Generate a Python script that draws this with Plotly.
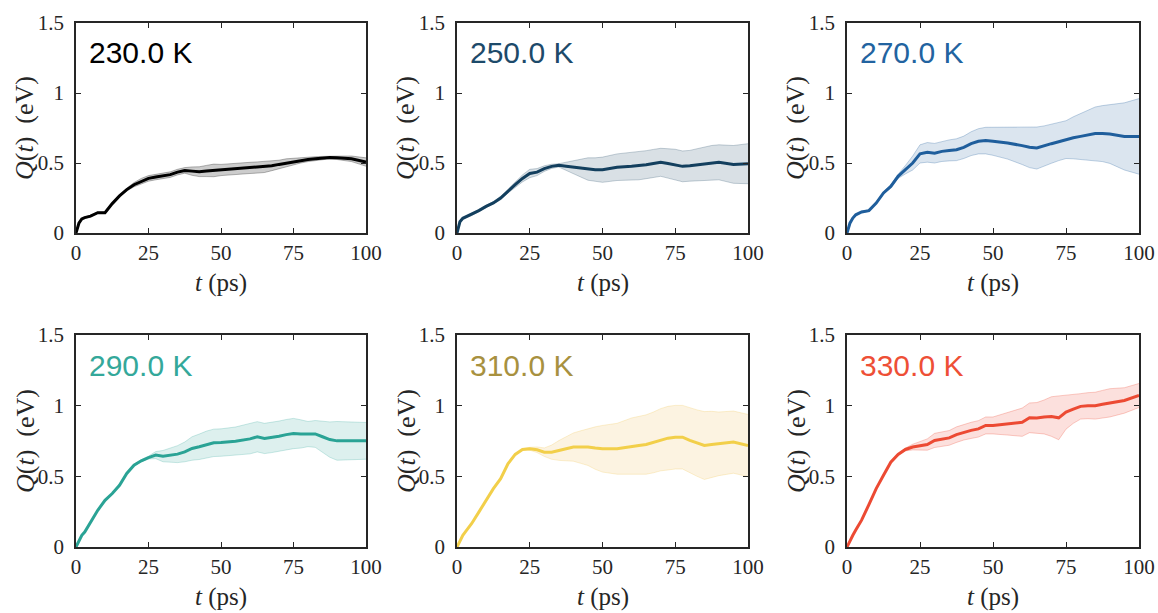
import plotly.graph_objects as go

# Time grid (ps)
t = [0, 1, 2, 3, 5, 7.5, 10, 12.5, 15, 17.5, 20, 22.5, 25, 27.5, 30, 32.5, 35, 37.5,
     40, 42.5, 45, 47.5, 50, 55, 60, 62.5, 65, 67.5, 70, 72.5, 75, 77.5, 80, 82.5,
     85, 87.5, 90, 95, 100]

labels = ["230.0 K", "250.0 K", "270.0 K", "290.0 K", "310.0 K", "330.0 K"]

q230 = [0, 0.07, 0.1, 0.11, 0.12, 0.145, 0.145, 0.21, 0.265, 0.31, 0.345, 0.37, 0.39, 0.4,
        0.407, 0.417, 0.435, 0.447, 0.442, 0.438, 0.443, 0.447, 0.45, 0.46, 0.465, 0.468,
        0.472, 0.48, 0.49, 0.5, 0.51, 0.52, 0.525, 0.53, 0.535, 0.54, 0.537, 0.53, 0.507]
e230 = [0, 0.003, 0.004, 0.005, 0.005, 0.005, 0.005, 0.005, 0.006, 0.01, 0.015, 0.02, 0.02,
        0.02, 0.02, 0.02, 0.02, 0.02, 0.03, 0.035, 0.04, 0.045, 0.04, 0.04, 0.04, 0.04, 0.04,
        0.035, 0.03, 0.03, 0.025, 0.02, 0.015, 0.015, 0.012, 0.01, 0.012, 0.02, 0.03]

q250 = [0, 0.08, 0.105, 0.115, 0.13, 0.16, 0.19, 0.215, 0.25, 0.3, 0.345, 0.39, 0.425, 0.435,
        0.46, 0.476, 0.483, 0.476, 0.47, 0.465, 0.457, 0.452, 0.452, 0.47, 0.476, 0.48, 0.488,
        0.497, 0.505, 0.497, 0.488, 0.476, 0.48, 0.487, 0.493, 0.5, 0.505, 0.49, 0.495]
e250 = [0, 0.003, 0.004, 0.005, 0.006, 0.007, 0.008, 0.01, 0.012, 0.015, 0.02, 0.025, 0.03,
        0.025, 0.02, 0.015, 0.012, 0.03, 0.05, 0.065, 0.08, 0.085, 0.09, 0.095, 0.1, 0.1, 0.1,
        0.1, 0.1, 0.105, 0.11, 0.11, 0.11, 0.115, 0.12, 0.125, 0.125, 0.135, 0.143]

q270 = [0, 0.07, 0.107, 0.13, 0.15, 0.16, 0.214, 0.286, 0.333, 0.405, 0.452, 0.5, 0.565, 0.576,
        0.57, 0.583, 0.59, 0.595, 0.612, 0.638, 0.655, 0.66, 0.655, 0.643, 0.624, 0.612, 0.607,
        0.62, 0.638, 0.652, 0.667, 0.68, 0.69, 0.7, 0.71, 0.71, 0.707, 0.69, 0.69]
e270 = [0, 0.003, 0.004, 0.005, 0.005, 0.005, 0.005, 0.008, 0.01, 0.015, 0.03, 0.05, 0.065,
        0.07, 0.07, 0.072, 0.075, 0.078, 0.08, 0.085, 0.09, 0.095, 0.1, 0.115, 0.135, 0.145,
        0.15, 0.145, 0.14, 0.135, 0.135, 0.15, 0.165, 0.18, 0.19, 0.2, 0.21, 0.24, 0.27]

q290 = [0, 0.047, 0.083, 0.106, 0.177, 0.26, 0.33, 0.378, 0.437, 0.52, 0.579, 0.61, 0.633, 0.65,
        0.643, 0.65, 0.657, 0.673, 0.697, 0.709, 0.725, 0.737, 0.739, 0.749, 0.765, 0.78, 0.768,
        0.775, 0.784, 0.795, 0.803, 0.8, 0.799, 0.8, 0.78, 0.76, 0.751, 0.751, 0.751]
e290 = [0, 0.003, 0.004, 0.005, 0.005, 0.005, 0.005, 0.005, 0.005, 0.005, 0.005, 0.008, 0.01,
        0.025, 0.04, 0.05, 0.06, 0.07, 0.083, 0.09, 0.095, 0.097, 0.097, 0.1, 0.106, 0.107,
        0.107, 0.107, 0.107, 0.107, 0.107, 0.1, 0.089, 0.095, 0.11, 0.125, 0.137, 0.135, 0.13]

q310 = [0, 0.047, 0.083, 0.11, 0.165, 0.247, 0.33, 0.413, 0.483, 0.589, 0.655, 0.69, 0.695,
        0.688, 0.671, 0.671, 0.683, 0.695, 0.707, 0.707, 0.707, 0.7, 0.695, 0.695, 0.713, 0.718,
        0.725, 0.74, 0.759, 0.77, 0.777, 0.777, 0.754, 0.735, 0.718, 0.725, 0.73, 0.742, 0.718]
e310 = [0, 0.003, 0.004, 0.005, 0.005, 0.005, 0.005, 0.005, 0.005, 0.005, 0.005, 0.005, 0.01,
        0.02, 0.03, 0.05, 0.07, 0.085, 0.1, 0.115, 0.13, 0.15, 0.165, 0.18, 0.2, 0.205, 0.21,
        0.215, 0.22, 0.225, 0.225, 0.225, 0.23, 0.235, 0.24, 0.235, 0.225, 0.22, 0.22]

q330 = [0, 0.047, 0.083, 0.12, 0.19, 0.3, 0.413, 0.507, 0.6, 0.655, 0.69, 0.707, 0.718, 0.725,
        0.754, 0.762, 0.772, 0.795, 0.812, 0.825, 0.836, 0.86, 0.86, 0.872, 0.883, 0.914, 0.912,
        0.92, 0.923, 0.914, 0.954, 0.975, 0.995, 1.0, 1.0, 1.01, 1.02, 1.037, 1.072]
e330 = [0, 0.003, 0.004, 0.005, 0.005, 0.005, 0.005, 0.005, 0.005, 0.005, 0.01, 0.02, 0.03,
        0.04, 0.05, 0.05, 0.052, 0.055, 0.055, 0.057, 0.058, 0.06, 0.06, 0.08, 0.1, 0.105, 0.11,
        0.12, 0.14, 0.155, 0.12, 0.1, 0.09, 0.092, 0.095, 0.098, 0.1, 0.09, 0.085]

means = [q230, q250, q270, q290, q310, q330]
errs = [e230, e250, e270, e290, e310, e330]

line_colors = ["#000000", "#133f5e", "#1f5e9c", "#2aa395", "#f2cf4a", "#ec4a33"]
text_colors = ["#000000", "#1d4a6a", "#2263a0", "#34a89a", "#a8913f", "#ee4f36"]
fill_colors = ["rgba(0,0,0,0.2)", "rgba(19,63,94,0.16)", "rgba(31,94,156,0.16)",
               "rgba(42,163,149,0.16)", "rgba(240,190,90,0.18)", "rgba(236,74,51,0.17)"]
edge_colors = ["rgba(0,0,0,0.35)", "rgba(19,63,94,0.3)", "rgba(31,94,156,0.35)",
               "rgba(42,163,149,0.3)", "rgba(240,200,90,0.35)", "rgba(236,74,51,0.35)"]

W, H = 1158, 613
xdom_px = [(76, 366), (457, 748), (847, 1139)]
ydom_px = [(23, 233), (335, 547)]

fig = go.Figure()
axcol = "#262626"
serif = "Liberation Serif"

for i in range(6):
    r, c = divmod(i, 3)
    n = i + 1
    xa = "x" if n == 1 else f"x{n}"
    ya = "y" if n == 1 else f"y{n}"
    upper = [m + e for m, e in zip(means[i], errs[i])]
    lower = [m - e for m, e in zip(means[i], errs[i])]
    fig.add_trace(go.Scatter(x=t, y=upper, mode="lines", line=dict(color=edge_colors[i], width=0.8),
                             xaxis=xa, yaxis=ya, showlegend=False, hoverinfo="skip"))
    fig.add_trace(go.Scatter(x=t, y=lower, mode="lines", line=dict(color=edge_colors[i], width=0.8),
                             fill="tonexty", fillcolor=fill_colors[i],
                             xaxis=xa, yaxis=ya, showlegend=False, hoverinfo="skip"))
    fig.add_trace(go.Scatter(x=t, y=means[i], mode="lines", line=dict(color=line_colors[i], width=3),
                             xaxis=xa, yaxis=ya, showlegend=False))

    x0, x1 = xdom_px[c]
    y0, y1 = ydom_px[r]
    pw, ph = x1 - x0, y1 - y0
    xdom = [x0 / W, x1 / W]
    ydom = [1 - y1 / H, 1 - y0 / H]
    key = "" if n == 1 else str(n)
    fig.layout["xaxis" + key] = dict(
        domain=xdom, range=[0, 100], anchor=ya, tickvals=[0, 25, 50, 75, 100],
        ticks="inside", ticklen=5, tickcolor=axcol, showline=True, linecolor=axcol, linewidth=1.5,
        mirror="ticks", showgrid=False, zeroline=False, automargin=False,
        tickfont=dict(family=serif, size=21, color=axcol), ticklabelstandoff=0,
    )
    fig.layout["yaxis" + key] = dict(
        domain=ydom, range=[0, 1.5], anchor=xa, tickvals=[0, 0.5, 1, 1.5],
        ticktext=["0", "0.5", "1", "1.5"],
        ticks="inside", ticklen=5, tickcolor=axcol, showline=True, linecolor=axcol, linewidth=1.5,
        mirror="ticks", showgrid=False, zeroline=False, automargin=False,
        tickfont=dict(family=serif, size=21, color=axcol), ticklabelstandoff=6,
    )
    # axis titles
    fig.add_annotation(text="<i>t</i> (ps)", xref=f"{xa} domain", yref=f"{ya} domain",
                       x=0.5, y=-50 / ph, xanchor="center", yanchor="middle", showarrow=False,
                       font=dict(family=serif, size=25, color=axcol))
    fig.add_annotation(text="<i>Q</i>(<i>t</i>)  (eV)", xref=f"{xa} domain", yref=f"{ya} domain",
                       x=-51 / pw, y=0.5, xanchor="center", yanchor="middle", showarrow=False,
                       textangle=-90, font=dict(family=serif, size=26, color=axcol))
    fig.add_annotation(text=labels[i], xref=f"{xa} domain", yref=f"{ya} domain",
                       x=11 / pw, y=1 - 30 / ph, xanchor="left", yanchor="middle", showarrow=False,
                       font=dict(family="Liberation Sans", size=30, color=text_colors[i]))

fig.update_layout(width=W, height=H, margin=dict(l=0, r=0, t=0, b=0),
                  paper_bgcolor="white", plot_bgcolor="white")

fig.write_html("out.html", config={"displayModeBar": False},
               post_script="document.body.style.margin='0';document.body.style.overflow='hidden';")
